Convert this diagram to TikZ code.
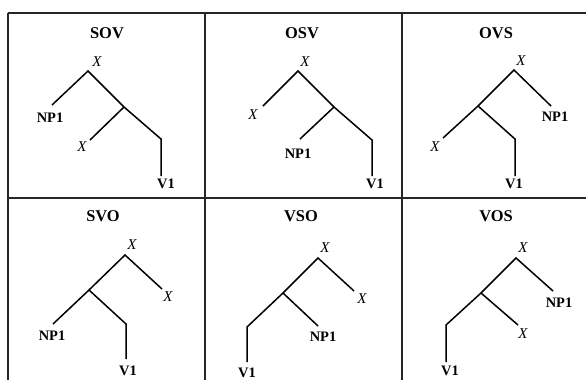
\documentclass[tikz,border=0pt]{standalone}
\usepackage{fontspec}
\setmainfont{Liberation Serif}
\usepackage{tikz}
\usetikzlibrary{positioning}

\begin{document}
\begin{tikzpicture}[
    x=1bp, y=-1bp,
    grid/.style   = {line width=1.2bp, black!85},
    branch/.style = {line width=1.5bp, line join=miter},
    title/.style  = {font=\fontsize{16.5}{16.5}\selectfont\bfseries, inner sep=0pt},
    cat/.style    = {font=\fontsize{14.5}{14.5}\selectfont\bfseries, inner sep=0pt},
    var/.style    = {font=\fontsize{15}{15}\selectfont\itshape, inner sep=0pt}
]
  \useasboundingbox (0,0) rectangle (586,380);

  % table frame
  \coordinate (tl) at (8,13);
  \coordinate (tr) at (586,13);
  \coordinate (ml) at (8,198);
  \coordinate (mr) at (586,198);
  \coordinate (bl) at (8,380);
  \coordinate (c1t) at (205,13);
  \coordinate (c1b) at (205,380);
  \coordinate (c2t) at (402,13);
  \coordinate (c2b) at (402,380);
  \draw[grid] (tl) -- (tr);
  \draw[grid] (ml) -- (mr);
  \draw[grid] (tl) -- (bl);
  \draw[grid] (c1t) -- (c1b);
  \draw[grid] (c2t) -- (c2b);

  % SOV
  \node[title] (sov) at (107,33) {SOV};
  \coordinate (sovA) at (88,71);
  \coordinate (sovL) at (52,105);
  \coordinate (sovB) at (124,107);
  \coordinate (sovBL) at (90,140);
  \coordinate (sovC) at (161,139);
  \coordinate (sovD) at (161,176);
  \node[var] (sovx) at (97,62) {X};
  \node[cat] (sovnp) at (50,118) {NP1};
  \node[var] (sovxb) at (82,147) {X};
  \node[cat] (sovv) at (166,184) {V1};
  \draw[branch] (sovL) -- (sovA) -- (sovB) -- (sovC) -- (sovD);
  \draw[branch] (sovB) -- (sovBL);

  % OSV
  \node[title] (osv) at (302,33) {OSV};
  \coordinate (osvA) at (298,71);
  \coordinate (osvL) at (263,106);
  \coordinate (osvB) at (334,107);
  \coordinate (osvBL) at (300,139);
  \coordinate (osvC) at (372,140);
  \coordinate (osvD) at (372,176);
  \node[var] (osvx) at (305,62) {X};
  \node[var] (osvxb) at (253,115) {X};
  \node[cat] (osvnp) at (298,154) {NP1};
  \node[cat] (osvv) at (375,184) {V1};
  \draw[branch] (osvL) -- (osvA) -- (osvB) -- (osvC) -- (osvD);
  \draw[branch] (osvB) -- (osvBL);

  % OVS
  \node[title] (ovs) at (496,33) {OVS};
  \coordinate (ovsA) at (514,70);
  \coordinate (ovsR) at (551,106);
  \coordinate (ovsB) at (478,106);
  \coordinate (ovsBL) at (443,138);
  \coordinate (ovsC) at (515,139);
  \coordinate (ovsD) at (515,176);
  \node[var] (ovsx) at (521,61) {X};
  \node[cat] (ovsnp) at (555,117) {NP1};
  \node[var] (ovsxb) at (435,147) {X};
  \node[cat] (ovsv) at (514,184) {V1};
  \draw[branch] (ovsR) -- (ovsA) -- (ovsB) -- (ovsBL);
  \draw[branch] (ovsB) -- (ovsC) -- (ovsD);

  % SVO
  \node[title] (svo) at (103,216) {SVO};
  \coordinate (svoA) at (125,255);
  \coordinate (svoR) at (162,289);
  \coordinate (svoB) at (89,290);
  \coordinate (svoBL) at (53,324);
  \coordinate (svoC) at (126,324);
  \coordinate (svoD) at (126,359);
  \node[var] (svox) at (132,245) {X};
  \node[var] (svoxb) at (168,297) {X};
  \node[cat] (svonp) at (52,336) {NP1};
  \node[cat] (svov) at (128,371) {V1};
  \draw[branch] (svoR) -- (svoA) -- (svoB) -- (svoBL);
  \draw[branch] (svoB) -- (svoC) -- (svoD);

  % VSO
  \node[title] (vso) at (301,216) {VSO};
  \coordinate (vsoA) at (318,258);
  \coordinate (vsoR) at (354,291);
  \coordinate (vsoB) at (283,293);
  \coordinate (vsoC) at (247,327);
  \coordinate (vsoD) at (247,362);
  \coordinate (vsoBR) at (318,326);
  \node[var] (vsox) at (325,248) {X};
  \node[var] (vsoxb) at (362,299) {X};
  \node[cat] (vsonp) at (323,337) {NP1};
  \node[cat] (vsov) at (247,373) {V1};
  \draw[branch] (vsoR) -- (vsoA) -- (vsoB) -- (vsoC) -- (vsoD);
  \draw[branch] (vsoB) -- (vsoBR);

  % VOS
  \node[title] (vos) at (496,216) {VOS};
  \coordinate (vosA) at (516,258);
  \coordinate (vosR) at (553,291);
  \coordinate (vosB) at (481,293);
  \coordinate (vosC) at (446,325);
  \coordinate (vosD) at (446,362);
  \coordinate (vosBR) at (518,325);
  \node[var] (vosx) at (523,248) {X};
  \node[cat] (vosnp) at (559,303) {NP1};
  \node[var] (vosxb) at (523,334) {X};
  \node[cat] (vosv) at (450,371) {V1};
  \draw[branch] (vosR) -- (vosA) -- (vosB) -- (vosC) -- (vosD);
  \draw[branch] (vosB) -- (vosBR);
\end{tikzpicture}
\end{document}
